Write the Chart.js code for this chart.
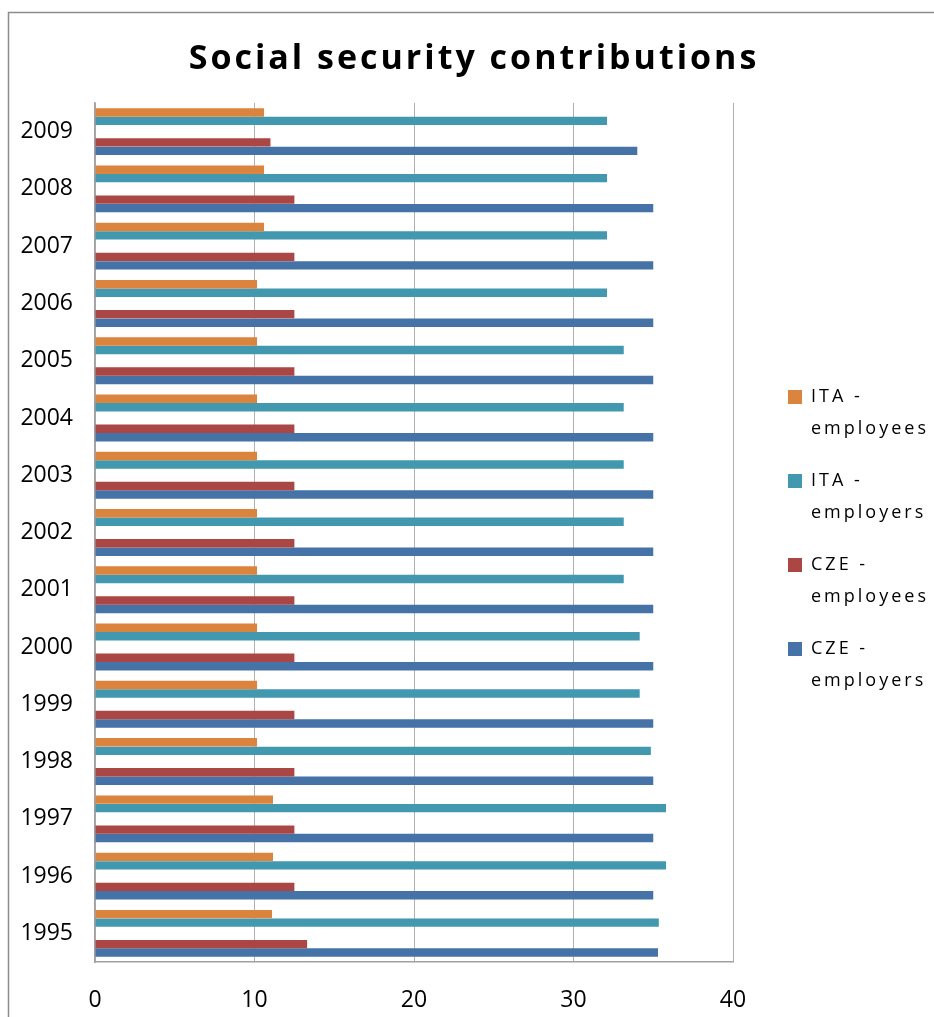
<!DOCTYPE html>
<html>
<head>
<meta charset="utf-8">
<script src="https://cdn.jsdelivr.net/npm/chart.js@4.4.1/dist/chart.umd.min.js"></script>
<style>
  html, body { margin: 0; padding: 0; background: #fff; overflow: hidden; }
  #wrap { width: 934px; height: 1017px; position: relative; }
</style>
</head>
<body>
<div id="wrap"><canvas id="c"></canvas></div>
<script>
// Contribution rates (% of gross wage), 1995–2009
const years = ['1995', '1996', '1997', '1998', '1999', '2000', '2001', '2002',
               '2003', '2004', '2005', '2006', '2007', '2008', '2009'];

const itaEmployees = [11.1, 11.16, 11.16, 10.16, 10.16, 10.16, 10.16, 10.16,
                      10.16, 10.16, 10.16, 10.16, 10.6, 10.6, 10.6];
const itaEmployers = [35.35, 35.8, 35.8, 34.85, 34.15, 34.15, 33.15, 33.15,
                      33.15, 33.15, 33.15, 32.1, 32.1, 32.1, 32.1];
const czeEmployees = [13.3, 12.5, 12.5, 12.5, 12.5, 12.5, 12.5, 12.5,
                      12.5, 12.5, 12.5, 12.5, 12.5, 12.5, 11.0];
const czeEmployers = [35.3, 35, 35, 35, 35, 35, 35, 35,
                      35, 35, 35, 35, 35, 35, 34];

const seriesNames = [
  ['ITA -', 'employees'],
  ['ITA -', 'employers'],
  ['CZE -', 'employees'],
  ['CZE -', 'employers']
];
const xTicks = [0, 10, 20, 30, 40];

const FONT = "'Open Sans', sans-serif";
const TRACKING = '3px';

// horizontal layout: plot area 95..733, legend column on the right
const PAD_LEFT = 14;
const Y_AXIS_WIDTH = 81;
const GAP_BEFORE_LEGEND = 35;
const LEGEND_WIDTH = 934 - 733 - GAP_BEFORE_LEGEND;

// outer frame of the chart object
const framePlugin = {
  id: 'frame',
  beforeDraw(chart) {
    const ctx = chart.ctx;
    ctx.save();
    ctx.strokeStyle = '#8c8c8c';
    ctx.lineWidth = 1.5;
    ctx.beginPath();
    ctx.moveTo(8.5, chart.height + 2);
    ctx.lineTo(8.5, 12.5);
    ctx.lineTo(chart.width + 2, 12.5);
    ctx.stroke();
    ctx.restore();
  }
};

// legend column gets a fixed width
const legendWidthPlugin = {
  id: 'legendWidth',
  beforeLayout(chart) {
    const lg = chart.legend;
    if (lg && !lg._fixedWidth) {
      const fit = lg.fit.bind(lg);
      lg.fit = function () { fit(); this.width = LEGEND_WIDTH; };
      lg._fixedWidth = true;
    }
  }
};

// wide tracking for title and legend text; tick labels are drawn plain
const spacingPlugin = {
  id: 'spacing',
  beforeDraw(chart) { chart.ctx.letterSpacing = TRACKING; },
  beforeDatasetsDraw(chart) { chart.ctx.letterSpacing = '0px'; }
};

const colors = ['#DB843D', '#4198AF', '#AA4643', '#4572A7'];
const values = [itaEmployees, itaEmployers, czeEmployees, czeEmployers];
// outer bars of each year use a narrower group, inner ones a wider group,
// which opens a gap between the ITA pair and the CZE pair
const catPct = [0.895, 1.5, 1.5, 0.895];
const barPct = [0.66, 0.39, 0.39, 0.66];

const datasets = values.map((v, i) => ({
  label: seriesNames[i],
  data: v,
  backgroundColor: colors[i],
  borderWidth: 0,
  categoryPercentage: catPct[i],
  barPercentage: barPct[i]
}));

new Chart(document.getElementById('c'), {
  type: 'bar',
  data: { labels: years, datasets },
  plugins: [framePlugin, legendWidthPlugin, spacingPlugin],
  options: {
    indexAxis: 'y',
    responsive: true,
    maintainAspectRatio: false,
    animation: false,
    layout: { padding: { left: PAD_LEFT, right: 0, top: 0, bottom: 0 } },
    plugins: {
      title: {
        display: true,
        text: 'Social security contributions',
        color: '#000',
        font: { family: FONT, size: 34, weight: 'bold', lineHeight: 1.2 },
        padding: { top: 39, bottom: 23.2 }
      },
      legend: {
        position: 'right',
        align: 'center',
        title: { display: true, text: '', font: { size: 10, lineHeight: 1 }, padding: { top: 65, bottom: 0 } },
        labels: {
          boxWidth: 14,
          boxHeight: 14,
          padding: 20,
          color: '#000',
          font: { family: FONT, size: 18, lineHeight: 32 / 18 }
        }
      },
      tooltip: { enabled: false }
    },
    scales: {
      x: {
        type: 'linear',
        min: 0,
        max: 40,
        afterBuildTicks(scale) { scale.ticks = xTicks.map(v => ({ value: v })); },
        ticks: { z: 1, padding: 25, color: '#000', font: { family: FONT, size: 23 } },
        grid: { color: '#b0b0b0', lineWidth: 1, drawTicks: false },
        border: { color: '#a0a0a0', width: 1.5 },
        afterFit(scale) { scale.height = 55; }
      },
      y: {
        type: 'category',
        reverse: true,
        ticks: { z: 1, padding: 22, color: '#000', font: { family: FONT, size: 23 } },
        grid: { display: false, drawTicks: false },
        border: { color: '#a0a0a0', width: 1.5 },
        afterFit(scale) { scale.width = Y_AXIS_WIDTH; }
      },
      y2: {
        type: 'category',
        position: 'right',
        ticks: { display: false },
        grid: { display: false, drawTicks: false },
        border: { display: false },
        afterFit(scale) { scale.width = GAP_BEFORE_LEGEND; }
      }
    }
  }
});
</script>
</body>
</html>
